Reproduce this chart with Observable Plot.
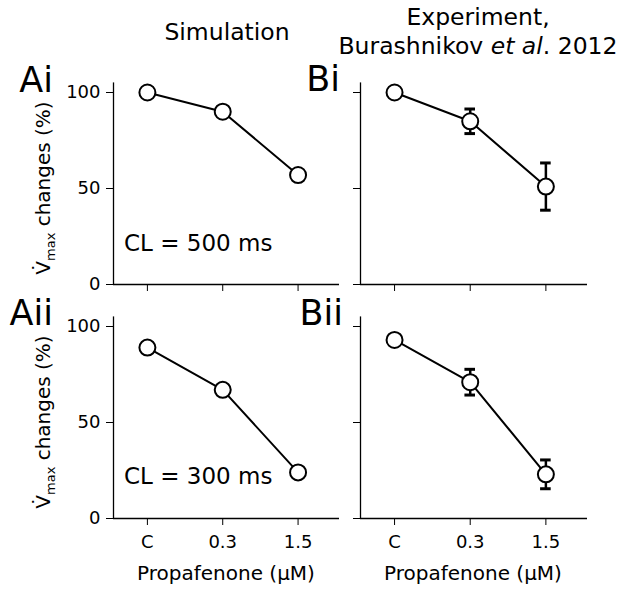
<!DOCTYPE html>
<html><head><meta charset="utf-8">
<script src="https://cdn.jsdelivr.net/npm/d3@7"></script>
<script src="https://cdn.jsdelivr.net/npm/@observablehq/plot@0.6"></script>
<style>
body{margin:0;background:#fff;}
#wrap{position:relative;width:636px;height:591px;font-family:"DejaVu Sans",sans-serif;}
#wrap svg{position:absolute;}
</style></head><body><div id="wrap"></div>
<script>
// ---- data ----
const categories = ["C", "0.3", "1.5"];
const simCL500 = [100, 90, 57];
const simCL300 = [89, 67, 24];
const expCL500 = [100, 85, 51];
const expCL500Err = [0, 6.4, 12.3];
const expCL300 = [93, 71, 23];
const expCL300Err = [0, 6.7, 7.5];
const yTicks = [0, 50, 100];
const xTicks = [0, 1, 2];

const wrap = document.getElementById("wrap");
const XDOM = [-0.45, 2.55];
const YDOM = [0, 105];

function panel({values, errors, showY, showX, left, top, width, height, mL, mR, mT, mB}) {
  const data = values.map((v, i) => ({i, v, e: errors ? errors[i] : 0}));
  const marks = [
    Plot.ruleX([XDOM[0]], {stroke: "#000", strokeWidth: 1.3}),
    Plot.ruleY([YDOM[0]], {stroke: "#000", strokeWidth: 1.3}),
    Plot.axisY({ticks: yTicks, tickSize: 7, tickPadding: 6, label: null,
      tickFormat: showY ? (d => String(d)) : (() => "")}),
    Plot.axisX({ticks: xTicks, tickSize: 7, tickPadding: 10, label: null,
      tickFormat: showX ? (i => categories[i]) : (() => "")}),
    Plot.line(data, {x: "i", y: "v", stroke: "#000", strokeWidth: 2})
  ];
  if (errors) {
    const eb = data.filter(d => d.e > 0);
    marks.push(Plot.ruleX(eb, {x: "i", y1: d => d.v - d.e, y2: d => d.v + d.e, stroke: "#000", strokeWidth: 2.5}));
    marks.push(Plot.ruleY(eb, {y: d => d.v + d.e, x1: d => d.i - 0.07, x2: d => d.i + 0.07, stroke: "#000", strokeWidth: 3}));
    marks.push(Plot.ruleY(eb, {y: d => d.v - d.e, x1: d => d.i - 0.07, x2: d => d.i + 0.07, stroke: "#000", strokeWidth: 3}));
  }
  marks.push(Plot.dot(data, {x: "i", y: "v", r: 8, fill: "white", stroke: "#000", strokeWidth: 2}));
  const svg = Plot.plot({
    width, height,
    marginLeft: mL, marginRight: mR, marginTop: mT, marginBottom: mB,
    x: {domain: XDOM},
    y: {domain: YDOM},
    style: {background: "transparent", fontFamily: "DejaVu Sans", fontSize: "18px", color: "#000", overflow: "visible"},
    marks
  });
  d3.select(svg).selectAll("text").attr("font-size", 18).style("font-size", "18px").style("font-variant", "normal");
  svg.style.left = left + "px";
  svg.style.top = top + "px";
  wrap.appendChild(svg);
}

// row 1: y=0 at 284, top at 82.4 ; row 2: y=0 at 518, top at 316.4
panel({values: simCL500, showY: true, showX: false, left: 0, top: 0, width: 345, height: 300, mL: 113, mR: 6, mT: 82.4, mB: 16});
panel({values: expCL500, errors: expCL500Err, showY: false, showX: false, left: 345, top: 0, width: 291, height: 300, mL: 15, mR: 49, mT: 82.4, mB: 16});
panel({values: simCL300, showY: true, showX: true, left: 0, top: 300, width: 345, height: 291, mL: 113, mR: 6, mT: 16.4, mB: 73});
panel({values: expCL300, errors: expCL300Err, showY: false, showX: true, left: 345, top: 300, width: 291, height: 291, mL: 15, mR: 49, mT: 16.4, mB: 73});

// ---- overlay text ----
const ov = d3.select(wrap).insert("svg", ":first-child")
  .attr("width", 636).attr("height", 591)
  .style("left", "0px").style("top", "0px")
  .attr("font-family", "DejaVu Sans").attr("fill", "#000");

ov.append("text").attr("x", 227).attr("y", 40).attr("text-anchor", "middle").attr("font-size", 23.5).text("Simulation");
ov.append("text").attr("x", 478).attr("y", 25).attr("text-anchor", "middle").attr("font-size", 23.5).text("Experiment,");
const t2 = ov.append("text").attr("x", 478).attr("y", 54).attr("text-anchor", "middle").attr("font-size", 23.5);
t2.append("tspan").text("Burashnikov ");
t2.append("tspan").attr("font-style", "italic").text("et al");
t2.append("tspan").text(". 2012");

const panelLabels = [
  {t: "Ai", x: 53, y: 92}, {t: "Bi", x: 340, y: 91},
  {t: "Aii", x: 53, y: 325}, {t: "Bii", x: 343, y: 325}
];
panelLabels.forEach(p => ov.append("text").attr("x", p.x).attr("y", p.y).attr("text-anchor", "end").attr("font-size", 35).text(p.t));

[188, 422].forEach(cy => {
  const t = ov.append("text").attr("transform", `translate(50,${cy}) rotate(-90)`).attr("text-anchor", "middle").attr("font-size", 20);
  t.append("tspan").text("V\u0307");
  t.append("tspan").attr("font-size", 13).attr("dy", 5).text("max");
  t.append("tspan").attr("dy", -5).text(" changes (%)");
});

ov.append("text").attr("x", 124).attr("y", 251).attr("font-size", 23).text("CL = 500 ms");
ov.append("text").attr("x", 124).attr("y", 484).attr("font-size", 23).text("CL = 300 ms");

[226, 473].forEach(cx => ov.append("text").attr("x", cx).attr("y", 580).attr("text-anchor", "middle").attr("font-size", 20).text("Propafenone (\u03bcM)"));
</script></body></html>
